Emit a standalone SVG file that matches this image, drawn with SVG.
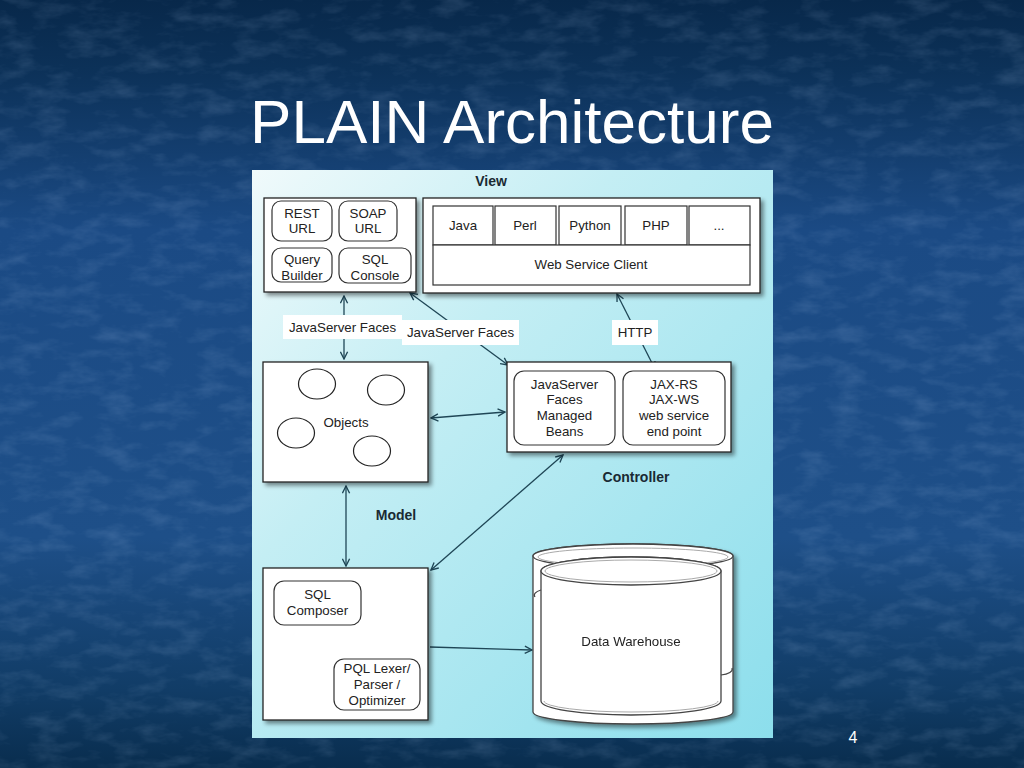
<svg xmlns="http://www.w3.org/2000/svg" width="1024" height="768" viewBox="0 0 1024 768">
<defs>
  <linearGradient id="slideBg" x1="0" y1="0" x2="0" y2="1">
    <stop offset="0" stop-color="#08284a"/>
    <stop offset="0.09" stop-color="#0c3158"/>
    <stop offset="0.3" stop-color="#1b4a84"/>
    <stop offset="0.7" stop-color="#1e4f88"/>
    <stop offset="0.9" stop-color="#113c66"/>
    <stop offset="1" stop-color="#092d4e"/>
  </linearGradient>
  <filter id="tex" x="0" y="0" width="100%" height="100%">
    <feTurbulence type="fractalNoise" baseFrequency="0.03 0.07" numOctaves="4" seed="7" result="n"/>
    <feColorMatrix in="n" type="matrix" values="0 0 0 0 0.5  0 0 0 0 0.65  0 0 0 0 0.9  0 0 0 1.4 -0.62" result="c"/>
    <feComposite in="c" in2="SourceGraphic" operator="in"/>
  </filter>
  <linearGradient id="panelBg" x1="0" y1="0" x2="1" y2="1">
    <stop offset="0" stop-color="#f0fafb"/>
    <stop offset="0.35" stop-color="#c4eef4"/>
    <stop offset="1" stop-color="#8cdeec"/>
  </linearGradient>
  <filter id="shadow" x="-10%" y="-10%" width="130%" height="130%">
    <feDropShadow dx="3" dy="3" stdDeviation="2" flood-color="#000" flood-opacity="0.45"/>
  </filter>
  <marker id="arr" viewBox="0 0 10 10" refX="9" refY="5" markerWidth="9" markerHeight="9" markerUnits="userSpaceOnUse" orient="auto-start-reverse">
    <path d="M1,1 L9,5 L1,9" fill="none" stroke="#1f4656" stroke-width="1.5"/>
  </marker>
  <style>
    .t { font-family: "Liberation Sans", Arial, sans-serif; font-size: 13.3px; fill: #222; text-anchor: middle; }
    .b { font-family: "Liberation Sans", Arial, sans-serif; font-size: 14px; font-weight: bold; fill: #1a2a33; text-anchor: middle; }
    .box { fill: #fff; stroke: #222; stroke-width: 1.3; }
    .rbox { fill: #fff; stroke: #333; stroke-width: 1.2; }
    .cell { fill: #fff; stroke: #333; stroke-width: 1.2; }
    .con { fill: none; stroke: #1f4656; stroke-width: 1.3; }
    .lbl { fill: #fff; }
    .cyl { fill: #fff; stroke: #444; stroke-width: 1.3; }
    .cyl2 { fill: none; stroke: #aaa; stroke-width: 1; }
  </style>
</defs>

<!-- slide background -->
<rect x="0" y="0" width="1024" height="768" fill="url(#slideBg)"/>
<rect x="0" y="0" width="1024" height="768" fill="#fff" filter="url(#tex)" opacity="0.22"/>

<text x="512" y="143" font-family="'Liberation Sans', Arial, sans-serif" font-size="62" fill="#ffffff" text-anchor="middle">PLAIN Architecture</text>
<text x="853" y="743" font-family="'Liberation Sans', Arial, sans-serif" font-size="16" fill="#ffffff" text-anchor="middle">4</text>

<!-- diagram panel -->
<rect x="252" y="170" width="521" height="568" fill="url(#panelBg)"/>

<text class="b" x="491" y="186">View</text>
<text class="b" x="396" y="520">Model</text>
<text class="b" x="636" y="482">Controller</text>

<!-- connectors -->
<g id="connectors">
  <line class="con" x1="344" y1="296" x2="344" y2="359" marker-start="url(#arr)" marker-end="url(#arr)"/>
  <line class="con" x1="410" y1="293" x2="508" y2="365" marker-start="url(#arr)" marker-end="url(#arr)"/>
  <line class="con" x1="617" y1="294" x2="655" y2="369" marker-start="url(#arr)" marker-end="url(#arr)"/>
  <line class="con" x1="431" y1="418" x2="505" y2="412" marker-start="url(#arr)" marker-end="url(#arr)"/>
  <line class="con" x1="346" y1="486" x2="346" y2="566" marker-start="url(#arr)" marker-end="url(#arr)"/>
  <line class="con" x1="563" y1="455" x2="431" y2="570" marker-start="url(#arr)" marker-end="url(#arr)"/>
  <line class="con" x1="336" y1="627" x2="358" y2="658" marker-start="url(#arr)" marker-end="url(#arr)"/>
  <line class="con" x1="430" y1="647" x2="532" y2="650" marker-end="url(#arr)"/>
  <g id="label-jsf1">
    <rect class="lbl" x="283" y="315" width="119" height="24"/>
    <text class="t" x="342.5" y="331.5">JavaServer Faces</text>
  </g>
  <g id="label-jsf2">
    <rect class="lbl" x="402" y="320" width="117" height="25"/>
    <text class="t" x="460.5" y="337">JavaServer Faces</text>
  </g>
  <g id="label-http">
    <rect class="lbl" x="612" y="320" width="46" height="25"/>
    <text class="t" x="635" y="337">HTTP</text>
  </g>
</g>

<!-- View: left box -->
<g id="view-left">
  <rect class="box" x="264" y="198" width="152" height="94" filter="url(#shadow)"/>
  <rect class="rbox" x="272" y="201" width="60" height="40" rx="9"/>
  <text class="t" x="302" y="218">REST</text>
  <text class="t" x="302" y="233">URL</text>
  <rect class="rbox" x="339" y="201" width="58" height="40" rx="9"/>
  <text class="t" x="368" y="218">SOAP</text>
  <text class="t" x="368" y="233">URL</text>
  <rect class="rbox" x="272" y="248" width="60" height="34" rx="9"/>
  <text class="t" x="302" y="264">Query</text>
  <text class="t" x="302" y="280">Builder</text>
  <rect class="rbox" x="339" y="248" width="72" height="35" rx="9"/>
  <text class="t" x="375" y="264">SQL</text>
  <text class="t" x="375" y="280">Console</text>
</g>

<!-- View: right box -->
<g id="view-right">
  <rect class="box" x="423" y="198" width="337" height="95" filter="url(#shadow)"/>
  <rect class="cell" x="433" y="206" width="60" height="39"/>
  <text class="t" x="463" y="230">Java</text>
  <rect class="cell" x="495" y="206" width="61" height="39"/>
  <text class="t" x="525" y="230">Perl</text>
  <rect class="cell" x="559" y="206" width="62" height="39"/>
  <text class="t" x="590" y="230">Python</text>
  <rect class="cell" x="625" y="206" width="62" height="39"/>
  <text class="t" x="656" y="230">PHP</text>
  <rect class="cell" x="689" y="206" width="61" height="39"/>
  <text class="t" x="719" y="230">...</text>
  <rect class="cell" x="433" y="245" width="317" height="40"/>
  <text class="t" x="591" y="269">Web Service Client</text>
</g>

<!-- Model: objects -->
<g id="objects">
  <rect class="box" x="263" y="362" width="165" height="120" filter="url(#shadow)"/>
  <ellipse cx="317" cy="384" rx="18.5" ry="15" fill="#fff" stroke="#222" stroke-width="1.2"/>
  <ellipse cx="386" cy="390" rx="18.5" ry="15" fill="#fff" stroke="#222" stroke-width="1.2"/>
  <ellipse cx="296" cy="433" rx="18.5" ry="15" fill="#fff" stroke="#222" stroke-width="1.2"/>
  <ellipse cx="372" cy="451" rx="18.5" ry="15" fill="#fff" stroke="#222" stroke-width="1.2"/>
  <text class="t" x="346" y="427">Objects</text>
</g>

<!-- Controller -->
<g id="controller">
  <rect class="box" x="507" y="362" width="224" height="90" filter="url(#shadow)"/>
  <rect class="rbox" x="514" y="371" width="101" height="74" rx="10"/>
  <text class="t" x="564.5" y="389">JavaServer</text>
  <text class="t" x="564.5" y="404">Faces</text>
  <text class="t" x="564.5" y="420">Managed</text>
  <text class="t" x="564.5" y="436">Beans</text>
  <rect class="rbox" x="623" y="371" width="102" height="74" rx="10"/>
  <text class="t" x="674" y="389">JAX-RS</text>
  <text class="t" x="674" y="404">JAX-WS</text>
  <text class="t" x="674" y="420">web service</text>
  <text class="t" x="674" y="436">end point</text>
</g>

<!-- Model: query engine -->
<g id="model-engine">
  <rect class="box" x="263" y="568" width="165" height="152" filter="url(#shadow)"/>
  <rect class="rbox" x="274" y="581" width="87" height="44" rx="10"/>
  <text class="t" x="317.5" y="599">SQL</text>
  <text class="t" x="317.5" y="615">Composer</text>
  <rect class="rbox" x="334" y="659" width="86" height="51" rx="10"/>
  <text class="t" x="377" y="673">PQL Lexer/</text>
  <text class="t" x="377" y="689">Parser /</text>
  <text class="t" x="377" y="705">Optimizer</text>
</g>

<!-- Data warehouse -->
<g id="data-warehouse" filter="url(#shadow)">
  <path class="cyl" d="M533,556 A100,12 0 0 1 733,556 L733,712 A100,12 0 0 1 533,712 Z"/>
  <ellipse class="cyl" cx="633" cy="556" rx="100" ry="12"/>
  <ellipse class="cyl2" cx="633" cy="557" rx="95" ry="9"/>
  <path class="cyl" d="M541,571 A90,14 0 0 1 721,571 L721,701 A90,14 0 0 1 541,701 Z"/>
  <ellipse class="cyl" cx="631" cy="571" rx="90" ry="14"/>
  <ellipse class="cyl2" cx="631" cy="571" rx="86" ry="11"/>
  <path class="cyl2" d="M544,701 A87,11 0 0 0 718,701"/>
  <path fill="none" stroke="#444" stroke-width="1.2" d="M535,597 A14,6 0 0 1 541,590"/>
  <path fill="none" stroke="#444" stroke-width="1.2" d="M721,675 A14,6 0 0 0 732,668"/>
  <text class="t" x="631" y="646">Data Warehouse</text>
</g>
</svg>
